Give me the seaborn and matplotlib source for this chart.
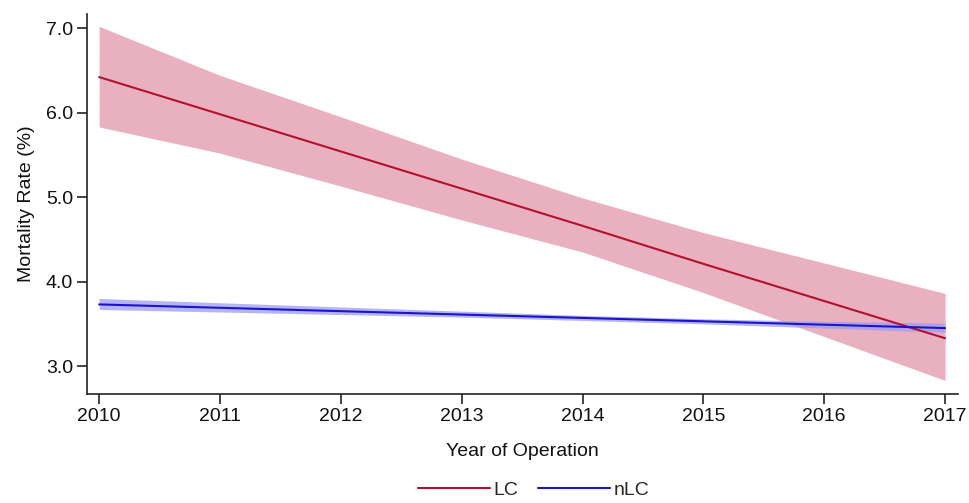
import numpy as np
import pandas as pd
import matplotlib
matplotlib.use("Agg")
import matplotlib.pyplot as plt
import seaborn as sns

years = [2010, 2011, 2012, 2013, 2014, 2015, 2016, 2017]
lc_rate = [6.42, 5.98, 5.54, 5.10, 4.66, 4.21, 3.77, 3.33]
lc_lower = [5.83, 5.52, 5.13, 4.73, 4.35, 3.87, 3.35, 2.83]
lc_upper = [7.02, 6.44, 5.95, 5.45, 4.99, 4.58, 4.22, 3.86]
nlc_rate = [3.73, 3.69, 3.65, 3.61, 3.57, 3.53, 3.49, 3.45]
nlc_lower = [3.67, 3.64, 3.61, 3.58, 3.54, 3.50, 3.45, 3.40]
nlc_upper = [3.80, 3.75, 3.70, 3.65, 3.60, 3.56, 3.53, 3.51]
series_names = ["LC", "nLC"]
y_ticks = [3.0, 4.0, 5.0, 6.0, 7.0]

df = pd.DataFrame({
    "Year": years * 2,
    "Rate": lc_rate + nlc_rate,
    "Group": [series_names[0]] * len(years) + [series_names[1]] * len(years),
})

sns.set_theme(style="white")
plt.rcParams["font.family"] = ["Liberation Sans", "DejaVu Sans"]

fig = plt.figure(figsize=(9.7, 5.03), dpi=100)
ax = fig.add_axes([0.0897, 0.2167, 0.8983, 0.7553])

line_colors = {"LC": "#b3112e", "nLC": "#1c14c8"}
band_colors = {"LC": "#e9b1c0", "nLC": "#9d9cf2"}

ax.fill_between(years, lc_lower, lc_upper, color=band_colors["LC"], lw=0, zorder=1)
ax.fill_between(years, nlc_lower, nlc_upper, color=band_colors["nLC"], alpha=0.75, lw=0, zorder=2)

sns.lineplot(data=df, x="Year", y="Rate", hue="Group", palette=line_colors,
             linewidth=1.5, ax=ax, zorder=3)

ax.set_xlim(2009.9, 2017.11)
ax.set_ylim(2.67, 7.165)
ax.set_xticks(years)
ax.set_xticklabels([str(y) for y in years])
ax.set_yticks(y_ticks)
ax.set_yticklabels([f"{v:.1f}" for v in y_ticks])

for s in ["top", "right"]:
    ax.spines[s].set_visible(False)
for s in ["left", "bottom"]:
    ax.spines[s].set_color("#222222")
    ax.spines[s].set_linewidth(1.2)
ax.tick_params(axis="both", which="major", direction="out", length=7, width=1.2,
               color="#222222", labelsize=14, labelcolor="#111111", pad=3,
               bottom=True, left=True)

ax.set_xlabel("Year of Operation", fontsize=14, color="#111111", labelpad=13)
ax.set_ylabel("Mortality Rate (%)", fontsize=14, color="#111111", labelpad=8)

handles, labels = ax.get_legend_handles_labels()
ax.get_legend().remove()
leg = fig.legend(handles, labels, loc="center", bbox_to_anchor=(0.55, 0.025),
                 ncol=2, frameon=False, fontsize=14, handlelength=3.7,
                 columnspacing=1.0, handletextpad=0.2, borderaxespad=0, borderpad=0)
for h in leg.get_lines():
    h.set_linewidth(1.5)

fig.savefig("out.png", dpi=100)
